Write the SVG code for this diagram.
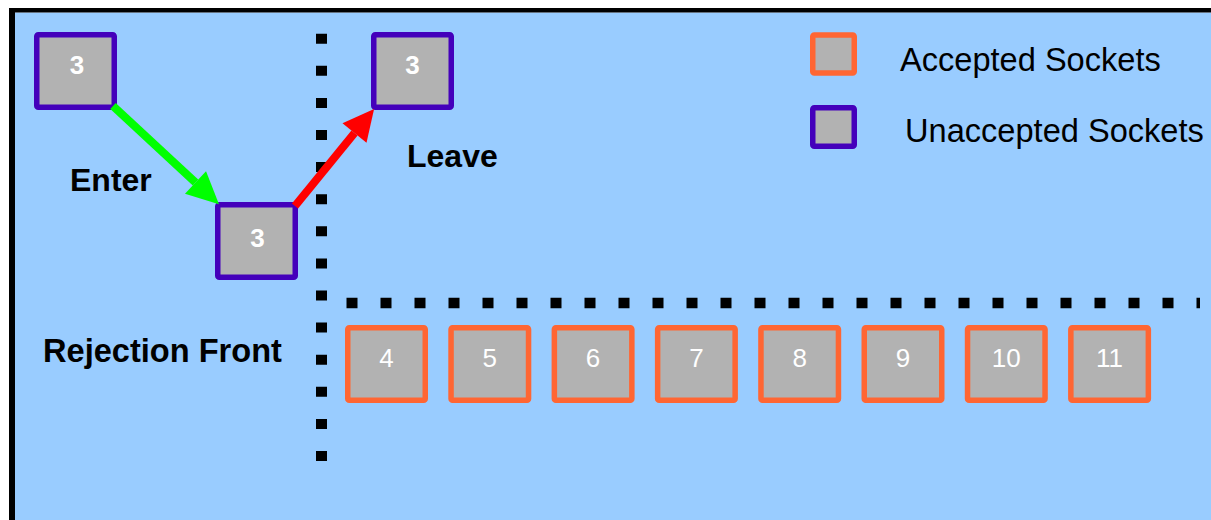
<svg xmlns="http://www.w3.org/2000/svg" width="1211" height="520" viewBox="0 0 1211 520">
  <style>
    .unacc { fill: #B2B2B2; stroke: #4400BB; stroke-width: 5.5; }
    .acc { fill: #B2B2B2; stroke: #FF6633; stroke-width: 5.5; }
    .numb { font-family: "Liberation Sans", Arial, sans-serif; font-size: 26px; font-weight: bold; fill: #FFFFFF; text-anchor: middle; }
    .num { font-family: "Liberation Sans", Arial, sans-serif; font-size: 26px; fill: #FFFFFF; text-anchor: middle; }
    .lbl { font-family: "Liberation Sans", Arial, sans-serif; font-size: 32px; font-weight: bold; fill: #000000; }
    .leg { font-family: "Liberation Sans", Arial, sans-serif; font-size: 32.6px; fill: #000000; }
    .dots { fill: none; stroke: #000000; }
  </style>
  <defs>
    <marker id="ahGreen" markerUnits="userSpaceOnUse" markerWidth="33" markerHeight="33" refX="0" refY="16" orient="auto" overflow="visible">
      <path d="M0,0.5 L32,16 L0,31.5 Z" fill="#00FF00"/>
    </marker>
    <marker id="ahRed" markerUnits="userSpaceOnUse" markerWidth="33" markerHeight="33" refX="0" refY="16" orient="auto" overflow="visible">
      <path d="M0,0.5 L31,16 L0,31.5 Z" fill="#FF0000"/>
    </marker>
  </defs>

  <rect x="0" y="0" width="1211" height="520" fill="#FFFFFF"/>
  <rect x="15" y="12.5" width="1196" height="507.5" fill="#99CCFF"/>
  <rect x="9" y="8" width="1202" height="4.5" fill="#000000"/>
  <rect x="9" y="8" width="6" height="512" fill="#000000"/>

  <g id="dividers">
    <line class="dots" x1="321.5" y1="33.7" x2="321.5" y2="462" stroke-width="11" stroke-dasharray="10 22.1"/>
    <line class="dots" x1="346.5" y1="303" x2="1200" y2="303" stroke-width="10.5" stroke-dasharray="11 23"/>
  </g>

  <g id="labels">
    <text class="lbl" x="70" y="191">Enter</text>
    <text class="lbl" x="407" y="166.5">Leave</text>
    <text class="lbl" x="43" y="362" style="font-size:32.6px">Rejection Front</text>
  </g>

  <g id="legend">
    <rect class="acc" x="812.75" y="35" width="41.5" height="38" rx="1.5"/>
    <text class="leg" x="900" y="71">Accepted Sockets</text>
    <rect class="unacc" x="812.75" y="107.75" width="41.5" height="38.5" rx="1.5"/>
    <text class="leg" x="905" y="142">Unaccepted Sockets</text>
  </g>

  <g id="node-enter-src">
    <rect class="unacc" x="36.75" y="34.75" width="77.5" height="72.5" rx="1.5"/>
    <text class="numb" x="77" y="74">3</text>
  </g>
  <g id="node-middle">
    <rect class="unacc" x="217.75" y="204.75" width="77.5" height="72.5" rx="1.5"/>
    <text class="numb" x="257.5" y="247">3</text>
  </g>
  <g id="node-leave">
    <rect class="unacc" x="373.75" y="34.75" width="77.5" height="72.5" rx="1.5"/>
    <text class="numb" x="412.5" y="73.5">3</text>
  </g>

  <g id="node-4"><rect class="acc" x="347.75" y="327.75" width="77.5" height="72.5" rx="1.5"/><text class="num" x="386.5" y="367">4</text></g>
  <g id="node-5"><rect class="acc" x="451.05" y="327.75" width="77.5" height="72.5" rx="1.5"/><text class="num" x="489.8" y="367">5</text></g>
  <g id="node-6"><rect class="acc" x="554.35" y="327.75" width="77.5" height="72.5" rx="1.5"/><text class="num" x="593.1" y="367">6</text></g>
  <g id="node-7"><rect class="acc" x="657.65" y="327.75" width="77.5" height="72.5" rx="1.5"/><text class="num" x="696.4" y="367">7</text></g>
  <g id="node-8"><rect class="acc" x="760.95" y="327.75" width="77.5" height="72.5" rx="1.5"/><text class="num" x="799.7" y="367">8</text></g>
  <g id="node-9"><rect class="acc" x="864.25" y="327.75" width="77.5" height="72.5" rx="1.5"/><text class="num" x="903" y="367">9</text></g>
  <g id="node-10"><rect class="acc" x="967.55" y="327.75" width="77.5" height="72.5" rx="1.5"/><text class="num" x="1006.3" y="367">10</text></g>
  <g id="node-11"><rect class="acc" x="1070.85" y="327.75" width="77.5" height="72.5" rx="1.5"/><text class="num" x="1109.6" y="367">11</text></g>

  <g id="connectors">
    <path d="M113,106 L195.5,182.5" stroke="#00FF00" stroke-width="8" fill="none" marker-end="url(#ahGreen)"/>
    <path d="M295,206 L354.5,133" stroke="#FF0000" stroke-width="8" fill="none" marker-end="url(#ahRed)"/>
  </g>
</svg>
